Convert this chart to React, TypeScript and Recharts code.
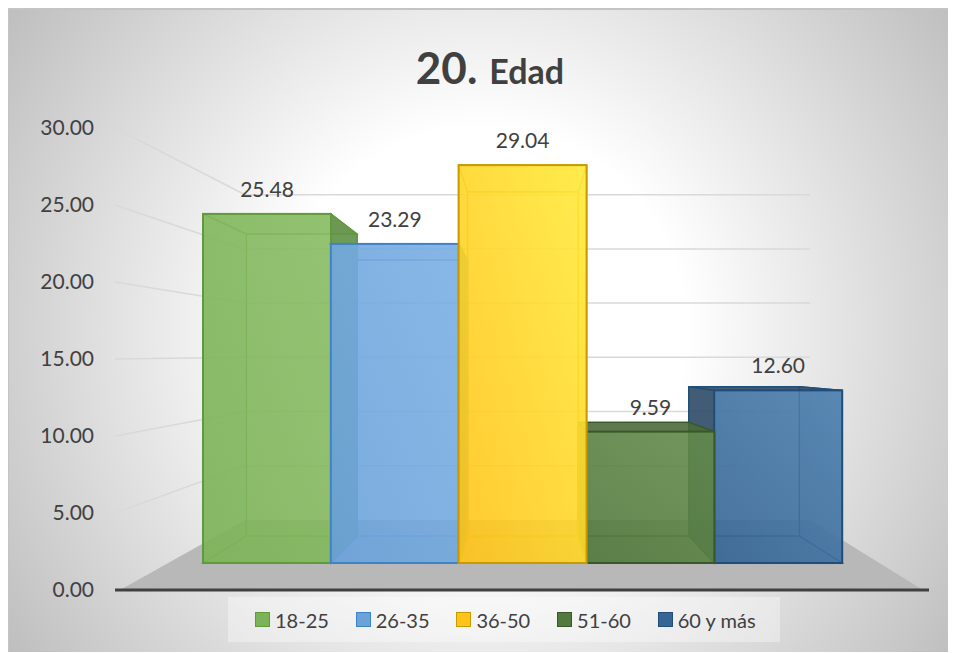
import { ComposedChart, Bar, Line, XAxis, YAxis, Legend, LabelList } from 'recharts';

const categories = ['18-25', '26-35', '36-50', '51-60', '60 y más'];
const values = [25.48, 23.29, 29.04, 9.59, 12.6];
const yTicks = [0, 5, 10, 15, 20, 25, 30];

// one series per age group so the paint order can differ from the legend order
const seriesColors = [
  { light: '#88BD63', dark: '#7DB358', edge: '#5F9A3C', side: '#5F8F45' },
  { light: '#7BB0E4', dark: '#6BA2DA', edge: '#3F83C6', side: '#3E7DB8' },
  { light: '#FFEB3C', dark: '#FFC31A', edge: '#C79A00', side: '#E0AE10' },
  { light: '#648B4C', dark: '#52793E', edge: '#38582A', side: '#4B6A3A' },
  { light: '#4C80B0', dark: '#356595', edge: '#1F4E79', side: '#2F4A66' },
];
const paintOrder = [0, 1, 4, 3, 2];

const chartData = categories.map((name, i) => {
  const row: Record<string, string | number> = { name };
  categories.forEach((_, j) => {
    row[`s${j}`] = i === j ? values[j] : 0;
  });
  return row;
});

const FONT = 'Lato, "Open Sans", sans-serif';
const TEXT = '#404040';

// perspective of the bar boxes, in chart coordinates
const BOX_DEPTH = 0.865;
const BOX_VX = 517;
const BOX_VY = 355;
const boxX = (x: number) => BOX_DEPTH * x + (1 - BOX_DEPTH) * BOX_VX;
const boxY = (y: number) => BOX_DEPTH * y + (1 - BOX_DEPTH) * BOX_VY;

const Box3D = (props: any) => {
  const { x, y, width, height, seriesIndex } = props;
  if (!height || height <= 0) return null;
  const c = seriesColors[seriesIndex];
  const x1 = x + width;
  const y1 = y + height;
  const bx0 = boxX(x);
  const bx1 = boxX(x1);
  const by0 = boxY(y);
  const by1 = boxY(y1);
  const gid = `front${seriesIndex}`;
  const face = (pts: number[][], opacity: number) => (
    <polygon
      points={pts.map((p) => p.join(',')).join(' ')}
      fill={c.side}
      fillOpacity={opacity}
      stroke={c.edge}
      strokeWidth={1.2}
    />
  );
  return (
    <g>
      <defs>
        <linearGradient id={gid} x1="1" y1="0" x2="0" y2="1">
          <stop offset="0" stopColor={c.light} />
          <stop offset="1" stopColor={c.dark} />
        </linearGradient>
      </defs>
      <rect x={bx0} y={by0} width={bx1 - bx0} height={by1 - by0} fill="none" stroke={c.edge} strokeWidth={1.2} />
      {face([[x, y1], [x1, y1], [bx1, by1], [bx0, by1]], 0.12)}
      {face([[x, y], [bx0, by0], [bx0, by1], [x, y1]], bx0 < x ? 0.9 : 0.12)}
      {face([[x1, y], [bx1, by0], [bx1, by1], [x1, y1]], bx1 > x1 ? 0.9 : 0.12)}
      {face([[x, y], [x1, y], [bx1, by0], [bx0, by0]], by0 < y ? 0.9 : 0.12)}
      <rect x={x} y={y} width={width} height={height} fill={`url(#${gid})`} fillOpacity={0.9} stroke={c.edge} strokeWidth={2} />
    </g>
  );
};

// value axis tick, it also carries the wall grid line and, at zero, the floor
const WallTick = (props: any) => {
  const { y, payload } = props;
  const wallY = 0.704 * y + 102.2;
  return (
    <g>
      {payload.value === 0 && (
        <polygon points={`112,582 915,582 802,${wallY} 237,${wallY}`} fill="#B8B8B8" />
      )}
      {payload.value !== 0 && (
        <polyline
          points={`107,${y} 237,${wallY} 802,${wallY}`}
          fill="none"
          stroke="#D9D9D9"
          strokeWidth={1.5}
        />
      )}
      <text x={86} y={y + 7} textAnchor="end" fontSize={21} fontFamily={FONT} fill={TEXT}>
        {payload.value.toFixed(2)}
      </text>
    </g>
  );
};

const AgeLegend = () => (
  <div
    style={{
      display: 'flex',
      alignItems: 'center',
      height: 45,
      boxSizing: 'border-box',
      paddingLeft: 27,
      background: 'rgba(255,255,255,0.35)',
      fontFamily: FONT,
      fontSize: 20,
      color: TEXT,
    }}
  >
    {categories.map((name, i) => (
      <div key={name} style={{ display: 'flex', alignItems: 'center', width: 100.7 }}>
        <span
          style={{
            width: 13,
            height: 13,
            marginRight: 5,
            background: seriesColors[i].dark,
            border: `1.5px solid ${seriesColors[i].edge}`,
            flex: 'none',
          }}
        />
        <span style={{ whiteSpace: 'nowrap' }}>{name}</span>
      </div>
    ))}
  </div>
);

const layer = { position: 'absolute', left: -1, top: -2 } as const;

const App = () => (
  <div
    style={{
      position: 'relative',
      width: 948,
      height: 644,
      boxSizing: 'border-box',
      borderTop: '2px solid #C4C4C4',
      borderLeft: '1px solid #C4C4C4',
      background: 'radial-gradient(circle 580px at 50% 50%, #FFFFFF 35%, #BDBDBD 100%)',
    }}
  >
    {/* axis ticks paint over bars inside one chart, so walls and floor get their own layer underneath */}
    <ComposedChart
      width={948}
      height={644}
      data={chartData}
      margin={{ top: 120, right: 27, bottom: 62, left: 0 }}
      style={layer}
    >
      <YAxis
        width={107}
        domain={[0, 30]}
        ticks={yTicks}
        axisLine={false}
        tickLine={false}
        tick={<WallTick />}
        interval={0}
      />
      <Line
        dataKey="s0"
        stroke="none"
        dot={false}
        activeDot={false}
        legendType="none"
        isAnimationActive={false}
      />
      <text x={482} y={76} textAnchor="middle" fontFamily={FONT} fontWeight={700} fill={TEXT}>
        <tspan fontSize={44}>20.</tspan>
        <tspan fontSize={34} dx={12}>Edad</tspan>
      </text>
    </ComposedChart>
    <ComposedChart
      width={948}
      height={644}
      data={chartData}
      barCategoryGap={0}
      margin={{ top: 120, right: 27, bottom: 16, left: 107 }}
      style={layer}
    >
      <YAxis hide domain={[-1.97, 31.75]} />
      <XAxis
        dataKey="name"
        tick={false}
        tickLine={false}
        height={1}
        axisLine={{ stroke: TEXT, strokeWidth: 3 }}
        padding={{ left: 88, right: 87 }}
      />
      {paintOrder.map((i) => (
        <Bar
          key={i}
          dataKey={`s${i}`}
          name={categories[i]}
          stackId="age"
          isAnimationActive={false}
          shape={(p: any) => <Box3D {...p} seriesIndex={i} />}
        >
          <LabelList
            dataKey={`s${i}`}
            position="top"
            content={(p: any) =>
              p.value ? (
                <text
                  x={p.x + p.width / 2}
                  y={p.y - 17}
                  textAnchor="middle"
                  fontSize={21}
                  fontFamily={FONT}
                  fill={TEXT}
                >
                  {Number(p.value).toFixed(2)}
                </text>
              ) : null
            }
          />
        </Bar>
      ))}
      <Legend
        content={<AgeLegend />}
        wrapperStyle={{ left: 220, top: 589, width: 552, height: 45, bottom: 'auto' }}
      />
    </ComposedChart>
  </div>
);

export default App;
